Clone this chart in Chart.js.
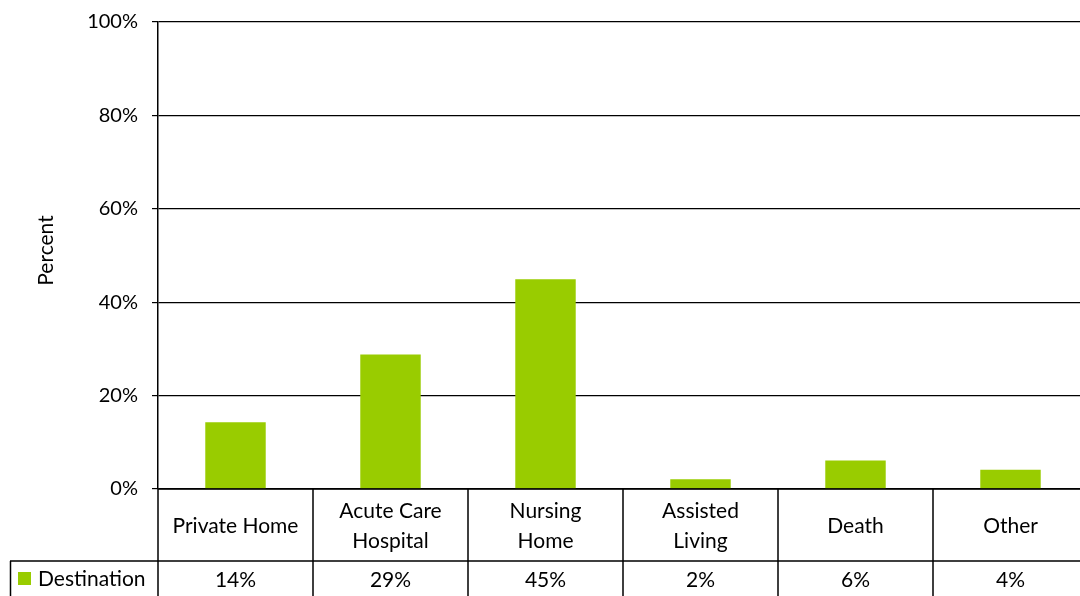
<!DOCTYPE html>
<html>
<head>
<meta charset="utf-8">
<script src="https://cdn.jsdelivr.net/npm/chart.js@4"></script>
<style>
  html,body{margin:0;padding:0;background:#fff;overflow:hidden;}
  #wrap{width:1088px;height:600px;position:relative;margin-top:-4px;}
</style>
</head>
<body>
<div id="wrap"><canvas id="chart"></canvas></div>
<script>
const categories = [['Private Home'], ['Acute Care','Hospital'], ['Nursing','Home'], ['Assisted','Living'], ['Death'], ['Other']];
const seriesName = 'Destination';
const values = [14.3, 28.8, 44.9, 2.1, 6.1, 4.1];
const tableLabels = ['14%', '29%', '45%', '2%', '6%', '4%'];
const yTicks = [0, 20, 40, 60, 80, 100];

const FONT = 'Lato, "Open Sans", sans-serif';
const GREEN = '#99CC00';

// draws the data table under the plot and the axis title
const tablePlugin = {
  id: 'dataTable',
  afterDraw(chart){
    const ctx = chart.ctx;
    const x = chart.scales.x, area = chart.chartArea;
    const n = categories.length;
    const step = (area.right - area.left) / n;
    const top = area.bottom, mid = area.bottom + 72, bot = chart.height;
    ctx.save();
    ctx.strokeStyle = '#000';
    ctx.lineWidth = 1.5;
    ctx.beginPath();
    ctx.moveTo(area.left, top); ctx.lineTo(area.right, top);
    ctx.moveTo(10, mid); ctx.lineTo(area.right, mid);
    ctx.moveTo(10.5, mid); ctx.lineTo(10.5, bot);
    for(let i=0;i<n;i++){
      const px = Math.round(area.left + step*i);
      ctx.moveTo(px, top); ctx.lineTo(px, bot);
    }
    ctx.stroke();

    ctx.fillStyle = '#000';
    ctx.font = '21px ' + FONT;
    ctx.textAlign = 'center';
    ctx.textBaseline = 'middle';
    const rowY = mid + 19;
    categories.forEach((lines, i)=>{
      const cx = x.getPixelForValue(i);
      const cy = (top + mid)/2 + 1;
      const lh = 30;
      lines.forEach((t, j)=>{
        ctx.fillText(t, cx, cy + (j - (lines.length-1)/2)*lh);
      });
      ctx.fillText(tableLabels[i], cx, rowY);
    });
    ctx.textAlign = 'left';
    ctx.fillStyle = GREEN;
    ctx.fillRect(18, mid + 11, 13, 13);
    ctx.fillStyle = '#000';
    ctx.fillText(seriesName, 38, rowY - 1);

    // axis title
    ctx.translate(46, (area.top + area.bottom)/2 - 5);
    ctx.rotate(-Math.PI/2);
    ctx.textAlign = 'center';
    ctx.font = '21px ' + FONT;
    ctx.fillText('Percent', 0, 0);
    ctx.restore();
  }
};

new Chart(document.getElementById('chart'), {
  type: 'bar',
  data: {
    labels: categories.map(c=>c.join(' ')),
    datasets: [{label: seriesName, data: values, backgroundColor: GREEN, borderWidth: 0,
      categoryPercentage: 1, barPercentage: 0.39}]
  },
  options: {
    responsive: true,
    maintainAspectRatio: false,
    animation: false,
    layout: {padding: {top: 18, right: 0, bottom: 107, left: 0}},
    plugins: {legend: {display: false}, tooltip: {enabled: false}},
    scales: {
      x: {display: false},
      y: {
        min: 0, max: 100,
        afterBuildTicks(s){ s.ticks = yTicks.map(v=>({value:v})); },
        afterFit(s){ s.width = 158; },
        border: {display: true, color: '#000', width: 1.5},
        grid: {color: '#000', lineWidth: 1.2, tickLength: 6, drawTicks: true},
        ticks: {color: '#000', padding: 14, font: {family: FONT, size: 20},
          callback: v => v + '%'}
      }
    }
  },
  plugins: [tablePlugin]
});
</script>
</body>
</html>
